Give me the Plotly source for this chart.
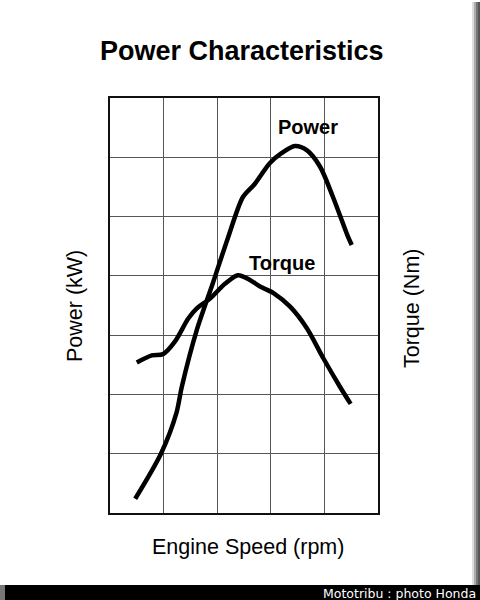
import plotly.graph_objects as go

# Engine speed positions (grid units, 0..5) and curve values (grid units, 0..7)
power_rpm = [0.47, 0.95, 1.24, 1.34, 1.62, 1.92, 2.20, 2.48, 2.70, 2.98, 3.20, 3.45, 3.67, 3.92, 4.16, 4.44, 4.51]
power_kw = [0.24, 1.00, 1.69, 2.13, 3.09, 3.88, 4.64, 5.33, 5.55, 5.90, 6.07, 6.19, 6.12, 5.84, 5.33, 4.66, 4.52]

torque_rpm = [0.50, 0.78, 0.99, 1.21, 1.46, 1.62, 1.87, 2.15, 2.39, 2.61, 2.80, 3.05, 3.36, 3.67, 3.98, 4.29, 4.49]
torque_nm = [2.54, 2.66, 2.68, 2.89, 3.28, 3.45, 3.62, 3.87, 4.01, 3.93, 3.82, 3.71, 3.48, 3.12, 2.61, 2.13, 1.84]

W, H = 480, 600
L, R, T, B = 110, 378, 98, 513  # plot area in pixels


def px(x):
    return (x - L) / (R - L)


def py(y):
    return (B - y) / (B - T)


fig = go.Figure()
fig.add_trace(go.Scatter(x=power_rpm, y=power_kw, mode="lines",
                         line=dict(color="black", width=4.5, shape="spline", smoothing=0.8),
                         name="Power", showlegend=False, hoverinfo="skip"))
fig.add_trace(go.Scatter(x=torque_rpm, y=torque_nm, mode="lines",
                         line=dict(color="black", width=4.5, shape="spline", smoothing=0.8),
                         name="Torque", showlegend=False, hoverinfo="skip"))

axis_common = dict(showgrid=True, gridcolor="#555555", gridwidth=1.3, showticklabels=False,
                   zeroline=False, showline=True, linecolor="#111111", linewidth=2,
                   mirror=True, ticks="", fixedrange=True)
fig.update_xaxes(range=[0, 5], dtick=1, **axis_common)
fig.update_yaxes(range=[0, 7], dtick=1, **axis_common)


def note(text, x, y, size, family, color="black", angle=0, xanchor="center"):
    return dict(text=text, x=px(x), y=py(y), xref="paper", yref="paper", textangle=angle,
                xanchor=xanchor, yanchor="middle", showarrow=False,
                font=dict(family=family, size=size, color=color))


sans = "Liberation Sans, Arial, sans-serif"
ann = [
    note("<b>Power Characteristics</b>", 242, 51, 27, sans),
    note("<b>Power</b>", 308, 127, 20, sans),
    note("<b>Torque</b>", 282, 263, 20, sans),
    note("Engine Speed (rpm)", 248, 547, 21.5, sans),
    note("Power (kW)", 75, 306, 21.5, sans, angle=-90),
    note("Torque (Nm)", 412, 309, 21.5, sans, angle=-90),
    note("Mototribu : photo Honda", 478, 593, 12.5, "DejaVu Sans, sans-serif", color="white", xanchor="right"),
]

shapes = []
# right grey edge
for x0, x1, c in [(472, 474, "#dddddd"), (474, 476, "#aaaaaa"), (476, 478, "#777777"), (478, 480, "#555555")]:
    shapes.append(dict(type="rect", xref="paper", yref="paper", x0=px(x0), x1=px(x1), y0=py(585), y1=py(2),
                       line=dict(width=0), fillcolor=c, layer="below"))
# bottom black bar
shapes.append(dict(type="rect", xref="paper", yref="paper", x0=px(0), x1=px(480), y0=py(600), y1=py(585),
                   line=dict(width=0), fillcolor="black", layer="below"))
shapes.append(dict(type="rect", xref="paper", yref="paper", x0=px(0), x1=px(5), y0=py(600), y1=py(585),
                   line=dict(width=0), fillcolor="#777777", layer="below"))

fig.update_layout(width=W, height=H, margin=dict(l=L, r=W - R, t=T, b=H - B),
                  paper_bgcolor="white", plot_bgcolor="white",
                  annotations=ann, shapes=shapes, showlegend=False)

fig.write_html("out.html", config={"displayModeBar": False})
